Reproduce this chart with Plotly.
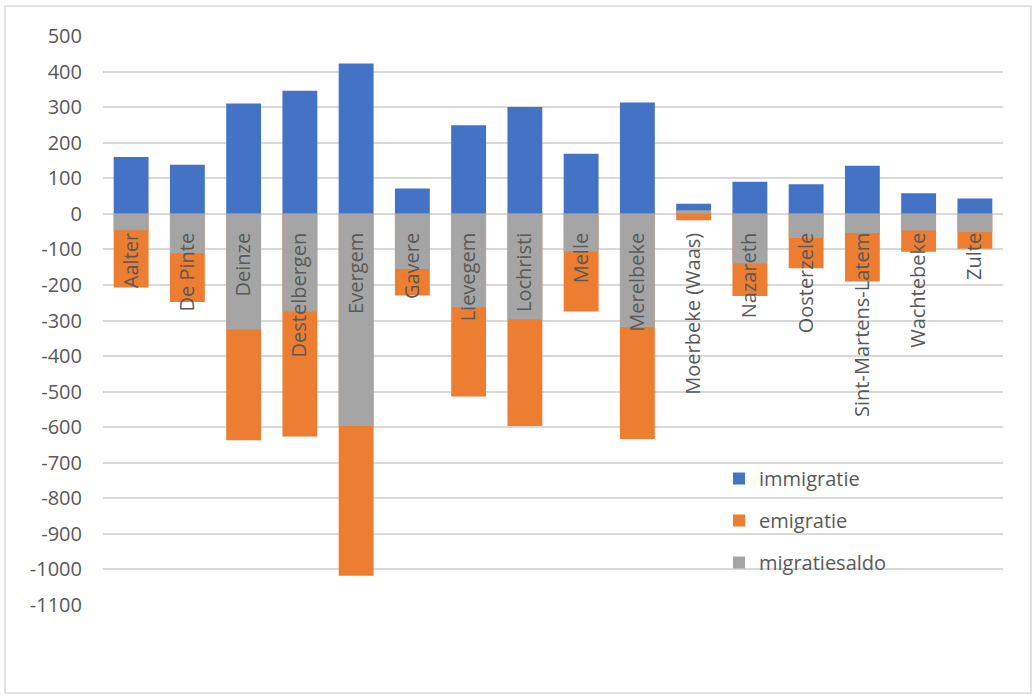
import plotly.graph_objects as go

gemeenten = ["Aalter", "De Pinte", "Deinze", "Destelbergen", "Evergem", "Gavere",
             "Lievegem", "Lochristi", "Melle", "Merelbeke", "Moerbeke (Waas)",
             "Nazareth", "Oosterzele", "Sint-Martens-Latem", "Wachtebeke", "Zulte"]
immigratie = [160, 138, 310, 346, 423, 71, 249, 300, 169, 313, 28, 90, 83, 135, 58, 43]
emigratie = [-207, -248, -637, -626, -1018, -230, -514, -597, -275, -633, -18, -231, -153, -190, -107, -98]
migratiesaldo = [-46, -111, -325, -275, -597, -155, -263, -297, -106, -318, 10, -140, -68, -54, -47, -51]

y_ticks = list(range(500, -1101, -100))
y_ticktext = [str(v) for v in y_ticks]

BLUE = "#4472C4"
ORANGE = "#ED7D31"
GRAY = "#A5A5A5"
TXT = "#595959"
FONT = "Open Sans"

fig = go.Figure()
for name, vals, col in [("immigratie", immigratie, BLUE),
                        ("emigratie", emigratie, ORANGE),
                        ("migratiesaldo", migratiesaldo, GRAY)]:
    fig.add_trace(go.Bar(x=gemeenten, y=vals, name=name, legendgroup=name,
                         marker=dict(color=col, line=dict(width=0))))

YMIN, YMAX = -1100, 500
zero_pos = (0 - YMIN) / (YMAX - YMIN)

W, H = 1035, 695
L, T = 103, 36
PR, PB = 1003, 605
R, B = W - PR, H - PB
pw, ph = PR - L, PB - T

def px_x(px):
    return (px - L) / pw

def px_y(py):
    return (PB - py) / ph

fig.update_layout(
    width=W, height=H,
    margin=dict(l=L, r=R, t=T, b=B),
    barmode="overlay",
    bargap=0.38,
    paper_bgcolor="white",
    plot_bgcolor="white",
    font=dict(family=FONT, size=20, color=TXT),
    xaxis=dict(type="category", anchor="free", position=zero_pos,
               tickangle=-90, showgrid=False, showline=False, ticks="",
               zeroline=False, ticklabelstandoff=14,
               tickfont=dict(family=FONT, size=20, color=TXT)),
    yaxis=dict(range=[YMIN, YMAX], tickvals=y_ticks, ticktext=y_ticktext,
               showgrid=True, gridcolor="#D9D9D9", gridwidth=1.8,
               zeroline=True, zerolinecolor="#D9D9D9", zerolinewidth=1.8,
               showline=False, ticks="", ticklabelstandoff=20,
               tickfont=dict(family=FONT, size=20, color=TXT)),
    legend=dict(x=px_x(719), y=px_y(459), xanchor="left", yanchor="top",
                bgcolor="rgba(0,0,0,0)", borderwidth=0, tracegroupgap=13,
                font=dict(family=FONT, size=20, color=TXT)),
    showlegend=True,
    shapes=[
        dict(type="rect", xref="paper", yref="paper", layer="between",
             x0=px_x(697), x1=px_x(911), y0=px_y(596), y1=px_y(440),
             fillcolor="white", line=dict(width=0)),
        dict(type="rect", xref="paper", yref="paper", layer="above",
             x0=px_x(5), x1=px_x(1031), y0=px_y(693), y1=px_y(6),
             fillcolor="rgba(0,0,0,0)", line=dict(color="#D9D9D9", width=1.5)),
    ],
)

fig.write_html("out.html", config={"displayModeBar": False},
               post_script="document.body.style.margin='0';")
